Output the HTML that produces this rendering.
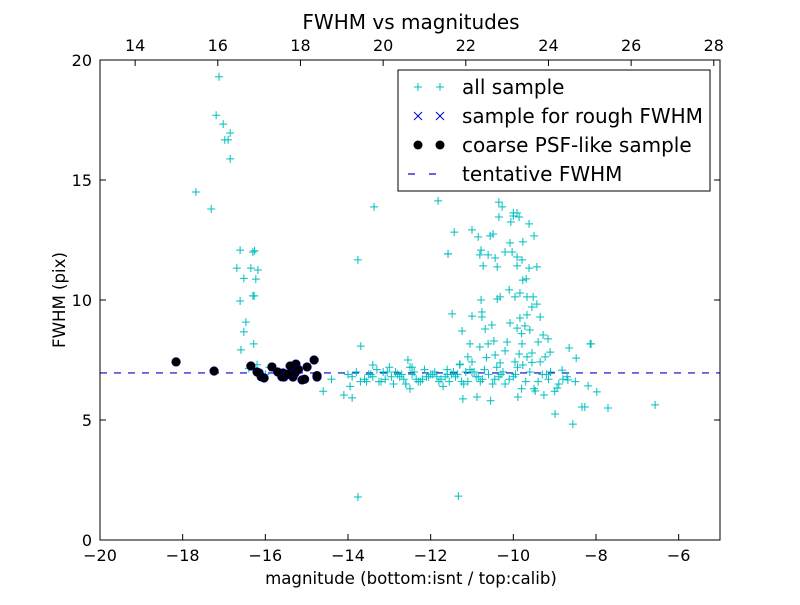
<!DOCTYPE html>
<html><head><meta charset="utf-8"><style>
body{margin:0;background:#fff}
svg text{font-family:"DejaVu Sans","Liberation Sans",sans-serif;fill:#000}
</style></head><body>
<svg id="chart" width="800" height="600" xmlns="http://www.w3.org/2000/svg">
<rect width="800" height="600" fill="#fff"/>
<text x="411" y="29" font-size="20" text-anchor="middle">FWHM vs magnitudes</text>
<text x="411" y="584" font-size="16.6" text-anchor="middle">magnitude (bottom:isnt / top:calib)</text>
<text transform="translate(65,300) rotate(-90)" font-size="16.6" text-anchor="middle">FWHM (pix)</text>
<g id="marks"></g>
<rect x="100" y="60" width="620" height="480" fill="none" stroke="#000" stroke-width="1"/>
<g id="axes"></g>
<g>
<rect x="398" y="70" width="312" height="121" fill="#fff" stroke="#000"/>
<g id="legend-items"></g>
</g>
</svg>
<script>
const xTicks=[-20,-18,-16,-14,-12,-10,-8,-6];
const yTicks=[0,5,10,15,20];
const topTicks=[14,16,18,20,22,24,26,28];
const topOffset=33.15;
const allX=[-17.12,-17.19,-17.02,-16.85,-16.98,-16.9,-16.85,-17.68,-17.31,-16.61,-16.30,-16.26,-16.69,-16.35,-16.18,-16.52,-16.23,-16.61,-16.30,-16.27,-16.47,-16.52,-16.28,-16.59,-16.2,-16.4,
-13.76,-11.33,-13.76,-13.37,-13.9,-6.57,-7.71,-8.14,-7.98,-11.24,-11.82,-11.58,-13.69,-13.4,
-10.35,-10.27,-10.35,-10.0,-9.91,-10.06,-9.62,-10.0,-9.86,-9.5,-11.43,-11.0,-10.85,-10.56,-10.49,-10.08,-9.77,-11.58,-10.78,-10.81,-10.61,-10.44,-10.2,-10.03,-9.91,-9.79,-10.73,-10.39,-9.91,-9.62,-9.43,-9.77,-9.69,-10.1,-9.84,-9.96,-9.67,-9.52,-10.32,-10.39,-10.78,-9.55,-9.43,-11.48,-11.0,-10.76,-10.76,-9.67,-9.35,-9.84,-10.08,-10.52,-9.72,-9.91,-10.68,-9.6,-9.28,-9.8,-11.05,-10.81,-10.61,-10.47,-10.15,-9.79,-9.4,-9.16,-8.65,-8.12,-8.48,-11.1,-10.44,-10.2,-9.86,-9.67,-9.55,-9.11,-9.23,-9.35,-11.29,-11.0,-10.32,-9.96,-9.77,-8.82,-8.68,-8.19,-8.94,-9.26,-9.47,-9.89,-10.88,-11.22,-8.99,-8.56,-8.27,-8.34,
-14.1,-13.9,-13.7,-13.5,-13.3,-13.1,-12.9,-12.7,-12.5,-12.3,-12.1,-11.9,-11.7,-11.5,-11.3,-11.1,-10.9,-10.7,-10.5,-10.3,-10.1,-9.9,-9.7,-9.5,-9.3,-9.1,-8.9,-8.7,-8.5,
-14.0,-13.8,-13.6,-13.4,-13.2,-13.0,-12.8,-12.6,-12.4,-12.2,-12.0,-11.8,-11.6,-11.4,-11.2,-11.0,-10.8,-10.6,-10.4,-10.2,-10.0,-9.8,-9.6,-9.4,-9.2,-9.0,-8.8,
-13.95,-13.55,-13.15,-12.75,-12.35,-11.95,-11.55,-11.15,-10.75,-10.35,-9.95,-9.55,-9.15,-12.6,-12.55,-12.5,-12.45,-11.65,-11.6,-10.65,-10.55,-14.6,-14.4,-16.0,-15.9,
-13.05,-12.95,-12.85,-12.65,-12.45,-12.25,-12.15,-11.85,-11.75,-11.45,-11.35,-11.25,-10.95,-10.85,-10.45,-10.25,-13.25,-13.45,-12.05,-11.05];
const allY=[19.3,17.7,17.33,16.96,16.67,16.67,15.88,14.5,13.79,12.08,12.0,12.05,11.33,11.33,11.25,10.9,10.87,9.96,10.17,10.17,9.08,8.67,8.17,7.92,7.3,7.15,
1.79,1.83,11.67,13.88,5.92,5.63,5.5,8.17,6.17,8.71,14.13,11.92,8.08,7.29,
14.08,13.88,13.46,13.63,13.63,13.25,13.17,13.5,13.46,12.67,12.83,12.92,12.63,12.67,12.75,12.38,12.42,11.92,12.08,11.88,11.88,11.75,12.0,12.0,11.79,11.67,11.42,11.38,11.42,11.33,11.38,10.83,10.88,10.42,10.29,10.13,10.13,10.13,10.13,10.04,10.0,9.71,9.83,9.42,9.33,9.5,9.29,9.38,9.29,9.25,9.04,8.96,8.92,8.83,8.79,8.75,8.54,8.6,8.17,8.04,8.17,8.29,8.25,8.17,8.25,8.38,8.0,8.17,7.58,7.63,7.71,7.88,7.75,7.63,7.79,7.83,7.63,7.42,7.33,7.42,7.38,7.42,7.29,7.08,6.67,6.42,6.33,6.04,6.21,5.96,5.96,5.88,5.25,4.83,5.54,5.54,6.04,
6.8,6.6,6.9,7.1,6.7,6.5,6.9,7.2,6.6,6.8,7.0,6.4,6.9,7.3,6.6,6.8,7.1,6.5,6.9,6.7,7.2,6.6,6.3,6.9,7.0,6.5,6.8,6.6,6.9,
7.0,6.7,6.8,6.6,7.2,6.9,6.5,7.0,6.7,6.9,6.6,7.1,6.8,6.5,7.0,6.6,6.9,7.2,6.5,6.8,6.3,7.0,6.6,6.9,6.2,6.7,6.4,
6.6,7.0,6.8,6.7,6.9,6.6,7.0,6.7,6.8,6.9,7.4,6.7,6.5,7.5,6.3,7.2,6.8,6.9,7.6,5.8,6.2,6.7,6.9,7.2,7.0,
6.8,7.0,6.7,6.9,6.6,7.1,6.8,6.7,7.0,6.9,6.6,7.0,6.8,6.7,7.0,6.6,6.9,6.8,7.1,6.75];
const psfX=[-18.16,-17.24,-16.35,-16.15,-16.03,-15.84,-15.57,-15.55,-15.35,-15.26,-15.33,-15.11,-14.99,-14.82,-14.75,-15.28,-15.6,-15.45,-15.2,-15.05,-14.75,-16.1,-15.7,-16.2,-15.4];
const psfY=[7.42,7.04,7.25,6.96,6.75,7.21,6.96,6.79,7.21,7.33,6.79,6.67,7.21,7.5,6.79,6.96,6.8,6.9,7.1,6.7,6.85,6.8,7.0,7.0,7.25];
const tentativeFWHM=6.96;
const xMin=-20,xMax=-5,yMin=0,yMax=20,L=100,R=720,T=60,B=540;
const sx=v=>L+(v-xMin)/(xMax-xMin)*(R-L);
const sy=v=>B-(v-yMin)/(yMax-yMin)*(B-T);
const NS='http://www.w3.org/2000/svg';
function mk(tag,attrs,parent){const e=document.createElementNS(NS,tag);for(const k in attrs)e.setAttribute(k,attrs[k]);parent.appendChild(e);return e;}
const marks=document.getElementById('marks'),axes=document.getElementById('axes');
const line=mk('line',{x1:L,x2:R,y1:sy(tentativeFWHM),y2:sy(tentativeFWHM),stroke:'#0000cc','stroke-width':1.2,'stroke-dasharray':'7,7'},marks);


function plus(x,y,c,parent){const g=mk('path',{d:`M${x-4},${y}h8M${x},${y-4}v8`,stroke:c,'stroke-width':1,fill:'none'},parent);return g;}
allX.forEach((v,i)=>{const p=plus(sx(v),sy(allY[i]),'#00bfbf',marks);

});
psfX.forEach((v,i)=>{const c=mk('circle',{cx:sx(v),cy:sy(psfY[i]),r:4.5,fill:'#000',stroke:'#0000ff','stroke-width':0.3},marks);

});
xTicks.forEach(v=>{const x=sx(v);mk('line',{x1:x,x2:x,y1:B,y2:B-6,stroke:'#000'},axes);
const t=mk('text',{x:x,y:B+21,'font-size':16,'text-anchor':'middle'},axes);t.textContent=String(v).replace('-','\u2212');

});
topTicks.forEach(v=>{const x=sx(v-topOffset);mk('line',{x1:x,x2:x,y1:T,y2:T+6,stroke:'#000'},axes);
const t=mk('text',{x:x,y:T-9,'font-size':16,'text-anchor':'middle'},axes);t.textContent=v;

});
yTicks.forEach(v=>{const y=sy(v);mk('line',{x1:L,x2:L+6,y1:y,y2:y,stroke:'#000'},axes);mk('line',{x1:R,x2:R-6,y1:y,y2:y,stroke:'#000'},axes);
const t=mk('text',{x:L-8,y:y+6,'font-size':16,'text-anchor':'end'},axes);t.textContent=v;

});
const li=document.getElementById('legend-items');
const labels=['all sample','sample for rough FWHM','coarse PSF-like sample','tentative FWHM'];
labels.forEach((s,i)=>{const y=87+i*29;
if(i==0){plus(418,y,'#00bfbf',li);plus(440,y,'#00bfbf',li);}
if(i==1){[418,440].forEach(x=>mk('path',{d:`M${x-4},${y-4}l8,8M${x-4},${y+4}l8,-8`,stroke:'#0000cc',fill:'none'},li));}
if(i==2){mk('circle',{cx:418,cy:y,r:4.5,fill:'#000'},li);mk('circle',{cx:440,cy:y,r:4.5,fill:'#000'},li);}
if(i==3){mk('line',{x1:408,x2:415,y1:y,y2:y,stroke:'#0000cc','stroke-width':1.2},li);mk('line',{x1:429,x2:436,y1:y,y2:y,stroke:'#0000cc','stroke-width':1.2},li);}
const t=mk('text',{x:462,y:y+7,'font-size':20},li);t.textContent=s;

});
</script>
</body></html>
